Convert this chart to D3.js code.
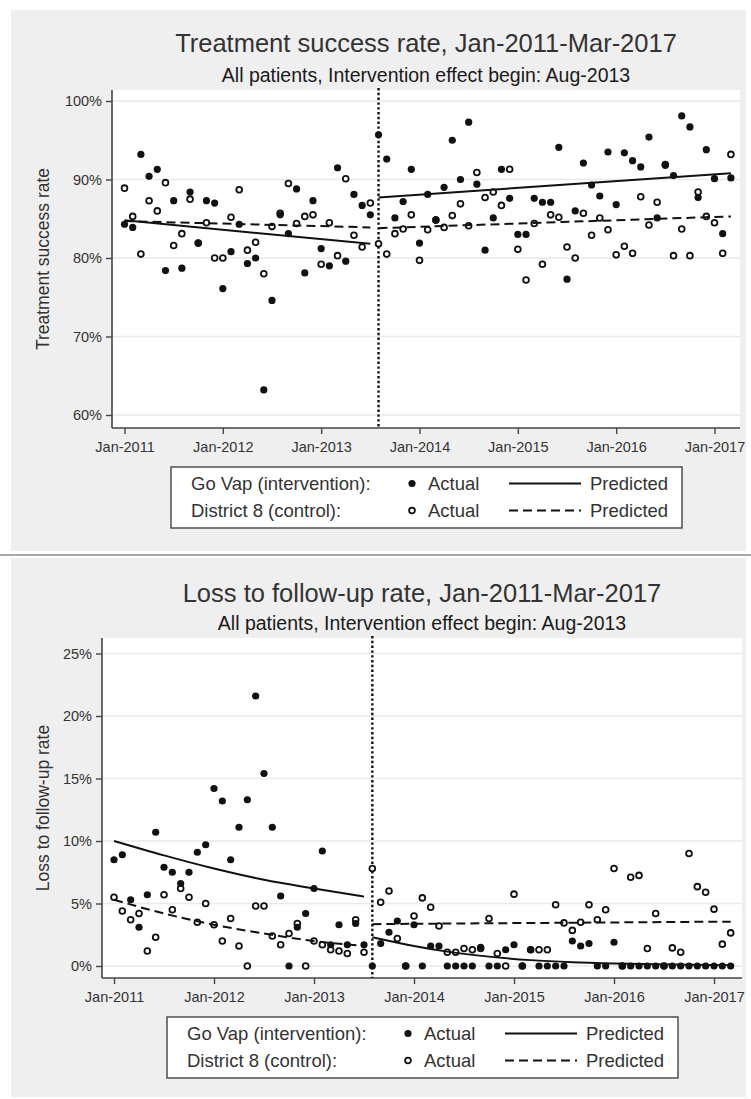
<!DOCTYPE html>
<html>
<head>
<meta charset="utf-8">
<script src="https://cdn.jsdelivr.net/npm/d3@7"></script>
<style>
  body { margin: 0; background: #fff; }
  svg { display: block; font-family: "Liberation Sans", Arial, sans-serif; }
</style>
</head>
<body>
<div class="container_graph"></div>
<script>
// month index: 0 = Jan-2011 ... 74 = Mar-2017
const tickMonths = [0, 12, 24, 36, 48, 60, 72];
const tickLabels = ["Jan-2011", "Jan-2012", "Jan-2013", "Jan-2014", "Jan-2015", "Jan-2016", "Jan-2017"];
const interventionMonth = 31; // Aug-2013

const legendGroups = ["Go Vap (intervention):", "District 8 (control):"];
const legendKinds = ["Actual", "Predicted"];

// treatment success rate (%), one value per month
const goVapSuccess = [
  84.3, 83.9, 93.2, 90.4, 91.3, 78.4, 87.3, 78.7, 88.4, 81.9, 87.3, 87.0,
  76.1, 80.8, 84.3, 79.3, 80.0, 63.2, 74.6, 85.5, 83.1, 88.8, 78.1, 87.3,
  81.2, 79.0, 91.5, 79.6, 88.1, 86.7, 85.5, 95.7, 92.6, 85.1, 87.2, 91.3,
  81.9, 88.1, 84.9, 89.0, 95.0, 90.0, 97.3, 89.4, 81.0, 85.1, 91.3, 87.6,
  83.0, 83.0, 87.6, 87.1, 87.1, 94.1, 77.3, 86.0, 92.1, 89.3, 87.9, 93.5,
  86.8, 93.4, 92.4, 91.6, 95.4, 85.1, 91.8, 90.5, 98.1, 96.7, 87.7, 93.8,
  90.1, 83.1, 90.2
];
const district8Success = [
  88.9, 85.3, 80.5, 87.3, 86.0, 89.6, 81.6, 83.1, 87.5, 81.9, 84.5, 80.0,
  80.0, 85.2, 88.7, 81.0, 82.0, 78.0, 84.0, 85.7, 89.5, 84.4, 85.3, 85.5,
  79.2, 84.5, 80.3, 90.1, 82.9, 81.4, 87.0, 81.8, 80.5, 83.1, 83.7, 85.5,
  79.7, 83.6, 84.8, 83.9, 85.4, 86.9, 84.1, 90.9, 87.7, 88.4, 86.7, 91.3,
  81.1, 77.2, 84.4, 79.2, 85.5, 85.2, 81.4, 80.0, 85.7, 82.9, 85.1, 83.6,
  80.4, 81.5, 80.6, 87.8, 84.2, 87.1, 91.9, 80.3, 83.7, 80.3, 88.4, 85.3,
  84.5, 80.6, 93.2
];
// predicted success rate, [month, %]
const goVapSuccessPredPre = [[0, 84.8], [30, 81.8]];
const goVapSuccessPredPost = [[31, 87.7], [74, 90.8]];
const district8SuccessPredPre = [[0, 84.7], [30, 83.9]];
const district8SuccessPredPost = [[31, 83.8], [74, 85.3]];

// loss to follow-up rate (%), one value per month
const goVapLoss = [
  8.5, 8.9, 5.3, 3.1, 5.7, 10.7, 7.9, 7.5, 6.6, 7.5, 9.1, 9.7,
  14.2, 13.2, 8.5, 11.1, 13.3, 21.6, 15.4, 11.1, 5.6, 0, 3.1, 4.2,
  6.2, 9.2, 1.7, 3.3, 1.7, 3.4, 1.7, 0, 1.8, 2.7, 3.6, 0,
  3.3, 0, 1.6, 1.6, 0, 0, 0, 0, 1.5, 0, 0, 1.3,
  1.7, 0, 1.3, 0, 0, 0, 0, 2.0, 1.6, 1.8, 0, 0,
  1.9, 0, 0, 0, 0, 0, 0, 0, 0, 0, 0, 0,
  0, 0, 0
];
const district8Loss = [
  5.5, 4.4, 3.7, 4.2, 1.2, 2.3, 5.7, 4.5, 6.2, 5.5, 3.5, 5.0,
  3.3, 2.0, 3.8, 1.6, 0, 4.8, 4.8, 2.4, 1.7, 2.6, 3.4, 0,
  2.0, 1.7, 1.3, 1.2, 1.0, 3.7, 1.1, 7.8, 5.1, 6.0, 2.2, 0,
  4.0, 5.45, 4.7, 3.2, 1.1, 1.1, 1.4, 1.3, 1.4, 3.8, 1.0, 0,
  5.75, 0, 1.3, 1.3, 1.3, 4.9, 3.45, 2.85, 3.5, 4.9, 3.7, 4.5,
  7.8, 0, 7.1, 7.25, 1.4, 4.2, 0, 1.45, 1.1, 9.0, 6.35, 5.9,
  4.55, 1.75, 2.65
];
// predicted loss rate, [month, %]
const goVapLossPredPre = [[0, 10.0], [6, 8.85], [12, 7.8], [18, 6.9], [24, 6.2], [30, 5.55]];
const goVapLossPredPost = [[31, 2.3], [36, 1.6], [40, 1.15], [45, 0.75], [50, 0.47], [55, 0.3], [60, 0.2], [67, 0.12], [74, 0.07]];
const district8LossPredPre = [[0, 5.3], [6, 4.2], [12, 3.3], [18, 2.6], [24, 2.0], [30, 1.6]];
const district8LossPredPost = [[31, 3.35], [52, 3.45], [74, 3.55]];

const width = 751;
const height = 1099;
const ink = "#111";
const textColor = "#333";
const filledR = 3.6;
const hollowR = 2.9;

const svg = d3
  .select(".container_graph")
  .append("svg")
  .attr("width", width)
  .attr("height", height)
  .style("background-color", "#fff");

// separator between the two graphs
svg
  .append("line")
  .attr("x1", 0)
  .attr("x2", width)
  .attr("y1", 555)
  .attr("y2", 555)
  .attr("stroke", "#a8a8a8")
  .attr("stroke-width", 2);

function drawPanel(p) {
  const g = svg.append("g");

  // panel background
  g.append("rect")
    .attr("x", 11)
    .attr("y", p.panelTop)
    .attr("width", 735)
    .attr("height", p.panelBottom - p.panelTop)
    .attr("fill", "#efefef");

  const cx = (p.plot.left + p.plot.right) / 2;

  g.append("text")
    .attr("x", cx)
    .attr("y", p.titleY)
    .attr("text-anchor", "middle")
    .attr("font-size", 25.5)
    .attr("fill", textColor)
    .text(p.title);

  g.append("text")
    .attr("x", cx)
    .attr("y", p.subtitleY)
    .attr("text-anchor", "middle")
    .attr("font-size", 19.5)
    .attr("fill", "#1a1a1a")
    .text(p.subtitle);

  const x = d3.scaleLinear().domain([0, 72]).range(p.xRange);
  const y = d3.scaleLinear().domain(p.yDomain).range(p.yRange);

  // plot region
  g.append("rect")
    .attr("x", p.plot.left)
    .attr("y", p.plot.top)
    .attr("width", p.plot.right - p.plot.left)
    .attr("height", p.plot.bottom - p.plot.top)
    .attr("fill", "#fff");

  // gridlines
  g.append("g")
    .selectAll("line")
    .data(p.yTicks)
    .join("line")
    .attr("x1", p.plot.left)
    .attr("x2", p.plot.right)
    .attr("y1", (d) => y(d))
    .attr("y2", (d) => y(d))
    .attr("stroke", "#e9e9e9")
    .attr("stroke-width", 1.5);

  // y axis
  const yAxis = g
    .append("g")
    .attr("transform", `translate(${p.plot.left},0)`)
    .call(
      d3.axisLeft(y)
        .tickValues(p.yTicks)
        .tickFormat((d) => d + "%")
        .tickSize(6)
        .tickSizeOuter(0)
        .tickPadding(4)
    );
  yAxis.select(".domain").remove();

  // x axis
  const xAxis = g
    .append("g")
    .attr("transform", `translate(0,${p.plot.bottom})`)
    .call(
      d3.axisBottom(x)
        .tickValues(tickMonths)
        .tickFormat((d, i) => tickLabels[i])
        .tickSize(6)
        .tickSizeOuter(0)
        .tickPadding(8)
    );
  xAxis.select(".domain").remove();

  [yAxis, xAxis].forEach((a) => {
    a.selectAll("line").attr("stroke", "#444").attr("stroke-width", 1.4);
    a.selectAll("text")
      .attr("fill", textColor)
      .style("font-size", "14.5px")
      .style("font-family", "'Liberation Sans', Arial, sans-serif");
  });

  g.append("line")
    .attr("x1", p.plot.left)
    .attr("x2", p.plot.left)
    .attr("y1", p.plot.top)
    .attr("y2", p.plot.bottom)
    .attr("stroke", "#444")
    .attr("stroke-width", 1.6);
  g.append("line")
    .attr("x1", p.plot.left)
    .attr("x2", p.plot.right)
    .attr("y1", p.plot.bottom)
    .attr("y2", p.plot.bottom)
    .attr("stroke", "#444")
    .attr("stroke-width", 1.6);

  // y axis title
  g.append("text")
    .attr("transform", `translate(${p.yTitleX},${(p.plot.top + p.plot.bottom) / 2}) rotate(-90)`)
    .attr("text-anchor", "middle")
    .attr("font-size", 17.5)
    .attr("fill", textColor)
    .text(p.yTitle);

  // intervention start
  g.append("line")
    .attr("x1", x(interventionMonth))
    .attr("x2", x(interventionMonth))
    .attr("y1", p.plot.top - 2)
    .attr("y2", p.plot.bottom)
    .attr("stroke", ink)
    .attr("stroke-width", 2.4)
    .attr("stroke-dasharray", "2.4,2.4");

  // control points (hollow) then intervention points (filled)
  g.append("g")
    .selectAll("circle")
    .data(p.control)
    .join("circle")
    .attr("cx", (d, i) => x(i))
    .attr("cy", (d) => y(d))
    .attr("r", hollowR)
    .attr("fill", "#fff")
    .attr("stroke", ink)
    .attr("stroke-width", 1.8);

  g.append("g")
    .selectAll("circle")
    .data(p.intervention)
    .join("circle")
    .attr("cx", (d, i) => x(i))
    .attr("cy", (d) => y(d))
    .attr("r", filledR)
    .attr("fill", ink);

  // predicted lines
  const line = d3
    .line()
    .x((d) => x(d[0]))
    .y((d) => y(d[1]))
    .curve(d3.curveMonotoneX);

  p.interventionPred.forEach((seg) => {
    g.append("path")
      .attr("d", line(seg))
      .attr("fill", "none")
      .attr("stroke", ink)
      .attr("stroke-width", 2);
  });
  p.controlPred.forEach((seg) => {
    g.append("path")
      .attr("d", line(seg))
      .attr("fill", "none")
      .attr("stroke", ink)
      .attr("stroke-width", 2)
      .attr("stroke-dasharray", "9,5");
  });

  // legend
  const legend = g
    .append("g")
    .attr("transform", `translate(${p.legendX},${p.legendY})`);

  legend
    .append("rect")
    .attr("width", 511)
    .attr("height", 61)
    .attr("fill", "#fff")
    .attr("stroke", "#444")
    .attr("stroke-width", 1.4);

  const rows = legend
    .selectAll("g.row")
    .data(legendGroups)
    .join("g")
    .attr("class", "row")
    .attr("transform", (d, i) => `translate(0,${23 + i * 27})`);

  rows.append("text")
    .attr("x", 20)
    .attr("font-size", 18.5)
    .attr("fill", textColor)
    .text((d) => d);

  rows.append("circle")
    .attr("cx", 241)
    .attr("cy", -6.5)
    .attr("r", (d, i) => (i === 0 ? filledR : hollowR))
    .attr("fill", (d, i) => (i === 0 ? ink : "#fff"))
    .attr("stroke", (d, i) => (i === 0 ? "none" : ink))
    .attr("stroke-width", 1.8);

  rows.append("text")
    .attr("x", 257)
    .attr("font-size", 18.5)
    .attr("fill", textColor)
    .text(legendKinds[0]);

  rows.append("line")
    .attr("x1", 338)
    .attr("x2", 410)
    .attr("y1", -6.5)
    .attr("y2", -6.5)
    .attr("stroke", ink)
    .attr("stroke-width", 2)
    .attr("stroke-dasharray", (d, i) => (i === 0 ? null : "9,5"));

  rows.append("text")
    .attr("x", 419)
    .attr("font-size", 18.5)
    .attr("fill", textColor)
    .text(legendKinds[1]);
}

drawPanel({
  panelTop: 10,
  panelBottom: 551,
  title: "Treatment success rate, Jan-2011-Mar-2017",
  subtitle: "All patients, Intervention effect begin: Aug-2013",
  titleY: 52,
  subtitleY: 82,
  plot: { left: 112, right: 740, top: 90, bottom: 428 },
  xRange: [124.5, 714.5],
  yDomain: [60, 100],
  yRange: [415, 101],
  yTicks: [60, 70, 80, 90, 100],
  yTitle: "Treatment success rate",
  yTitleX: 49,
  intervention: goVapSuccess,
  control: district8Success,
  interventionPred: [goVapSuccessPredPre, goVapSuccessPredPost],
  controlPred: [district8SuccessPredPre, district8SuccessPredPost],
  legendX: 171,
  legendY: 467
});

drawPanel({
  panelTop: 558,
  panelBottom: 1097,
  title: "Loss to follow-up rate, Jan-2011-Mar-2017",
  subtitle: "All patients, Intervention effect begin: Aug-2013",
  titleY: 602,
  subtitleY: 630,
  plot: { left: 102, right: 742, top: 638, bottom: 978 },
  xRange: [114, 714],
  yDomain: [0, 25],
  yRange: [966, 653.5],
  yTicks: [0, 5, 10, 15, 20, 25],
  yTitle: "Loss to follow-up rate",
  yTitleX: 49,
  intervention: goVapLoss,
  control: district8Loss,
  interventionPred: [goVapLossPredPre, goVapLossPredPost],
  controlPred: [district8LossPredPre, district8LossPredPost],
  legendX: 167,
  legendY: 1017
});
</script>
</body>
</html>
